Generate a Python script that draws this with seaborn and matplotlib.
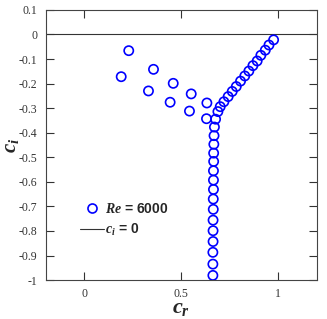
import matplotlib
matplotlib.use("Agg")
import matplotlib.pyplot as plt
import seaborn as sns
import pandas as pd
from matplotlib.lines import Line2D

sns.set_theme(style="ticks")
plt.rcParams['font.family'] = ['Liberation Serif', 'DejaVu Serif']
plt.rcParams['axes.unicode_minus'] = False
plt.rcParams['mathtext.fontset'] = 'custom'
plt.rcParams['mathtext.it'] = 'Liberation Serif:italic:bold'
plt.rcParams['mathtext.rm'] = 'Liberation Sans:bold'

cr = [0.190, 0.229, 0.331, 0.357, 0.443, 0.459, 0.543, 0.552, 0.631, 0.633,
      0.978, 0.954, 0.935, 0.912, 0.893, 0.871, 0.850, 0.829, 0.807, 0.785,
      0.764, 0.743, 0.721, 0.702, 0.690, 0.678,
      0.672, 0.670, 0.669, 0.668, 0.668, 0.667, 0.667, 0.667, 0.666, 0.666,
      0.665, 0.665, 0.665, 0.664, 0.664, 0.664]
ci = [-0.172, -0.066, -0.230, -0.142, -0.276, -0.199, -0.312, -0.242, -0.343, -0.279,
      -0.022, -0.043, -0.064, -0.085, -0.108, -0.127, -0.149, -0.169, -0.190, -0.212,
      -0.232, -0.253, -0.274, -0.294, -0.314, -0.345,
      -0.377, -0.412, -0.447, -0.483, -0.517, -0.555, -0.593, -0.631, -0.670, -0.712,
      -0.756, -0.799, -0.843, -0.887, -0.935, -0.981]
xticks = [0, 0.5, 1]
xticklabels = ['0', '0.5', '1']
yticks = [0.1, 0, -0.1, -0.2, -0.3, -0.4, -0.5, -0.6, -0.7, -0.8, -0.9, -1]
yticklabels = ['0.1', '0', '-0.1', '-0.2', '-0.3', '-0.4', '-0.5', '-0.6', '-0.7', '-0.8', '-0.9', '-1']

df = pd.DataFrame({'cr': cr, 'ci': ci})

fig = plt.figure(figsize=(3.27, 3.19), dpi=100)
ax = fig.add_axes([0.14, 0.122, 0.828, 0.847])

ax.axhline(0, color='#333333', lw=0.8, zorder=1)
sns.scatterplot(data=df, x='cr', y='ci', ax=ax, marker='o', s=44,
                facecolors='none', edgecolor='blue', linewidth=1.2, zorder=3)

ax.set_xlim(-0.2, 1.2)
ax.set_ylim(-1, 0.1)
ax.set_xticks(xticks)
ax.set_xticklabels(xticklabels)
ax.set_yticks(yticks)
ax.set_yticklabels(yticklabels)
ax.tick_params(direction='in', top=True, right=True, length=5.5, width=0.8,
               labelsize=8.5, colors='#333333', labelcolor='#333333', pad=6)
for sp in ax.spines.values():
    sp.set_color('#444444')
    sp.set_linewidth(0.8)

ax.set_xlabel('$c_r$', fontsize=16, labelpad=-1)
ax.set_ylabel('$c_i$', fontsize=15, labelpad=-2)

handles = [Line2D([], [], ls='none', marker='o', markersize=6.5, markerfacecolor='none',
                  markeredgecolor='blue', markeredgewidth=1.2),
           Line2D([], [], color='#333333', lw=0.8)]
ax.legend(handles, ['$Re$ = 6000', '$c_i$ = 0'], loc='lower left',
          bbox_to_anchor=(0.08, 0.11), frameon=False,
          handlelength=1.7, handletextpad=0.1, labelspacing=0.45,
          prop={'family': 'Liberation Sans', 'weight': 'bold', 'size': 10})

fig.savefig('out.png', dpi=100)
